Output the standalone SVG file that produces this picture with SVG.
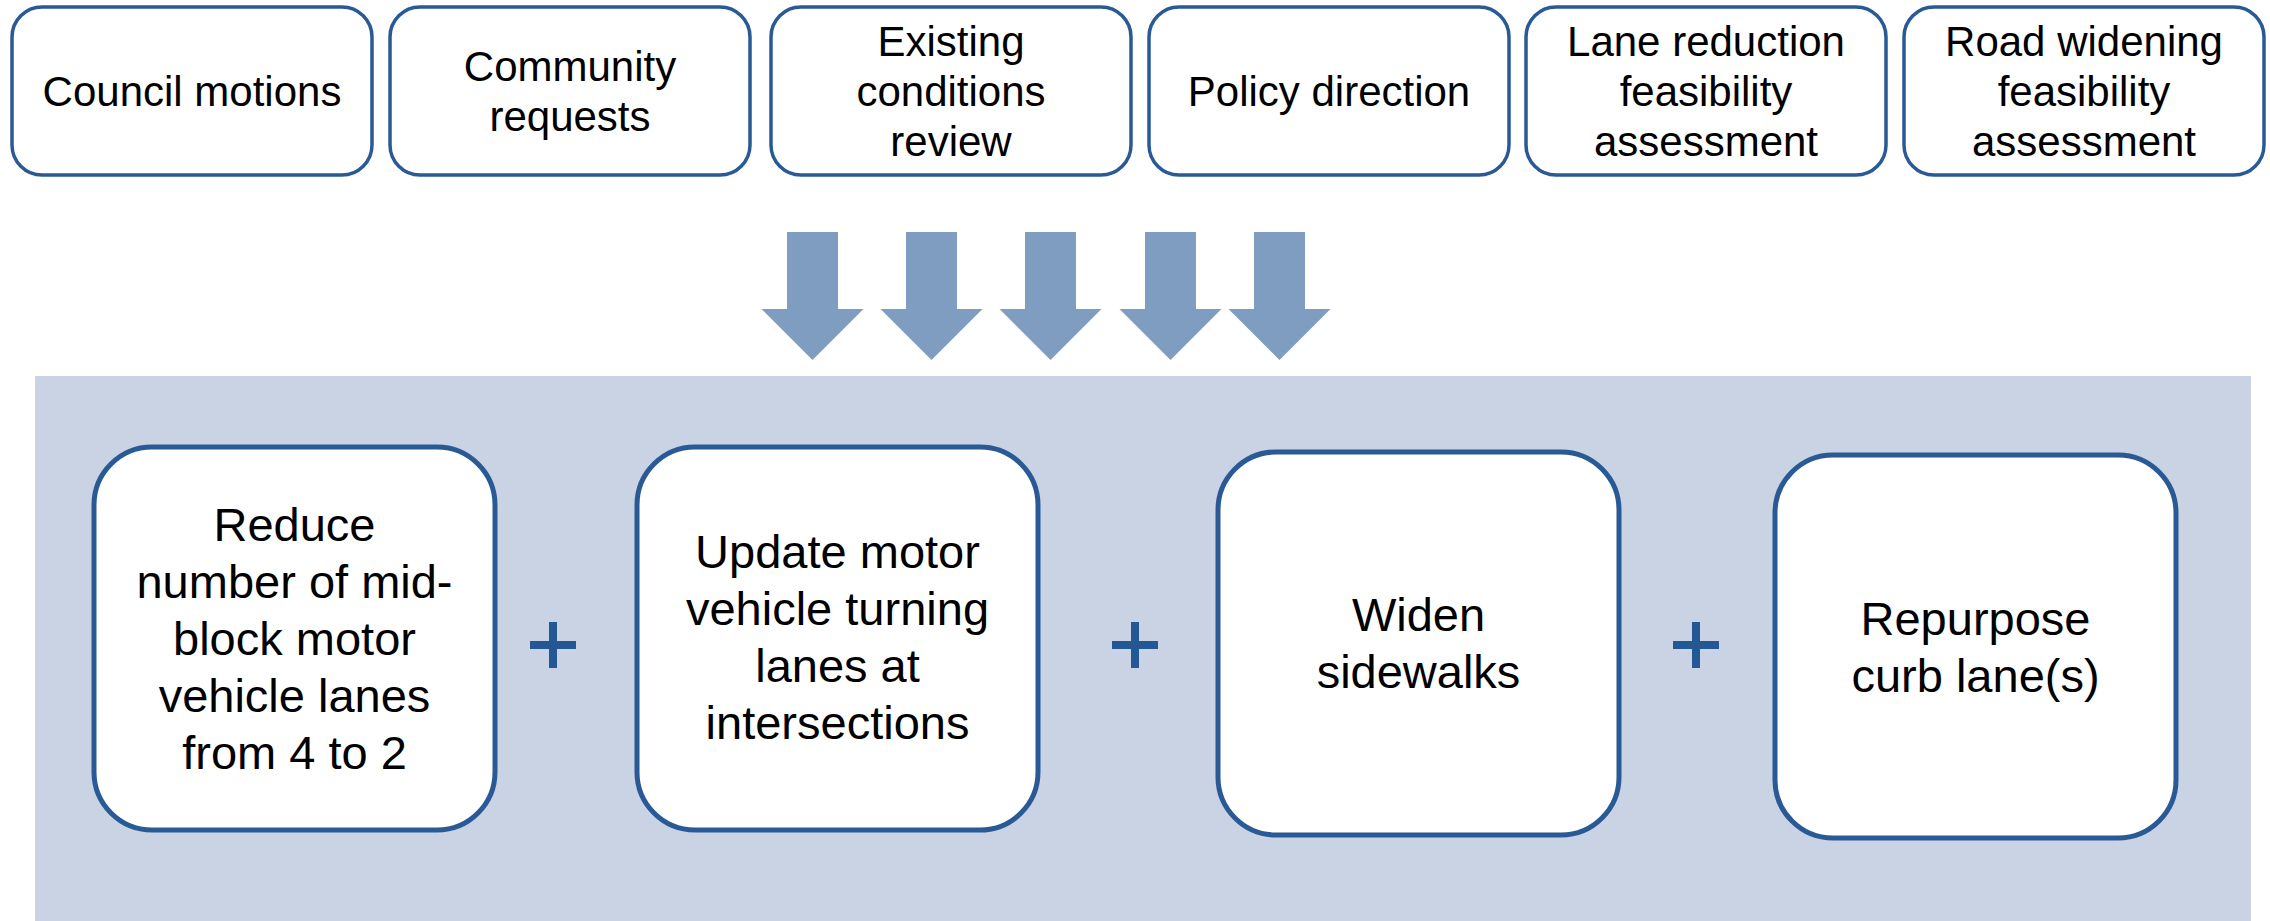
<svg xmlns="http://www.w3.org/2000/svg" width="2270" height="921" viewBox="0 0 2270 921">
<defs>
<style>
.top{fill:#fff;stroke:#2A5A96;stroke-width:3.5}
.big{fill:#fff;stroke:#2A5A96;stroke-width:5}
.t1{font-family:"Liberation Sans",Arial,sans-serif;font-size:42px;fill:#000;text-anchor:middle}
.t2{font-family:"Liberation Sans",Arial,sans-serif;font-size:47px;fill:#000;text-anchor:middle}
.arr{fill:#7F9DC0}
.plus{fill:#245894}
</style>
<path id="arrow" d="M-25.5,0 H25.5 V77 H51 L0,128 L-51,77 H-25.5 Z"/>
<path id="plus" d="M-4,-23 H4 V-4 H23 V4 H4 V23 H-4 V4 H-23 V-4 H-4 Z"/>
</defs>
<rect x="0" y="0" width="2270" height="921" fill="#fff"/>
<rect x="35" y="376" width="2216" height="545" fill="#C9D3E3"/>

<g id="n-council">
<rect class="top" x="12" y="7" width="360" height="168" rx="30"/>
<text class="t1" x="192" y="106">Council motions</text>
</g>
<g id="n-community">
<rect class="top" x="390" y="7" width="360" height="168" rx="30"/>
<text class="t1" x="570" y="81">Community</text>
<text class="t1" x="570" y="131">requests</text>
</g>
<g id="n-existing">
<rect class="top" x="771" y="7" width="360" height="168" rx="30"/>
<text class="t1" x="951" y="56">Existing</text>
<text class="t1" x="951" y="106">conditions</text>
<text class="t1" x="951" y="156">review</text>
</g>
<g id="n-policy">
<rect class="top" x="1149" y="7" width="360" height="168" rx="30"/>
<text class="t1" x="1329" y="106">Policy direction</text>
</g>
<g id="n-lane">
<rect class="top" x="1526" y="7" width="360" height="168" rx="30"/>
<text class="t1" x="1706" y="56">Lane reduction</text>
<text class="t1" x="1706" y="106">feasibility</text>
<text class="t1" x="1706" y="156">assessment</text>
</g>
<g id="n-road">
<rect class="top" x="1904" y="7" width="360" height="168" rx="30"/>
<text class="t1" x="2084" y="56">Road widening</text>
<text class="t1" x="2084" y="106">feasibility</text>
<text class="t1" x="2084" y="156">assessment</text>
</g>

<g id="connectors">
<use href="#arrow" class="arr" x="812.5" y="232"/>
<use href="#arrow" class="arr" x="931.5" y="232"/>
<use href="#arrow" class="arr" x="1050.5" y="232"/>
<use href="#arrow" class="arr" x="1170.5" y="232"/>
<use href="#arrow" class="arr" x="1279.5" y="232"/>
</g>

<g id="n-reduce">
<rect class="big" x="94" y="447" width="401" height="383" rx="58"/>
<text class="t2" x="294.5" y="541">Reduce</text>
<text class="t2" x="294.5" y="598">number of mid-</text>
<text class="t2" x="294.5" y="655">block motor</text>
<text class="t2" x="294.5" y="712">vehicle lanes</text>
<text class="t2" x="294.5" y="769">from 4 to 2</text>
</g>
<g id="plus1"><use href="#plus" class="plus" x="553" y="645"/></g>
<g id="n-update">
<rect class="big" x="637" y="447" width="401" height="383" rx="58"/>
<text class="t2" x="837.5" y="568">Update motor</text>
<text class="t2" x="837.5" y="625">vehicle turning</text>
<text class="t2" x="837.5" y="682">lanes at</text>
<text class="t2" x="837.5" y="739">intersections</text>
</g>
<g id="plus2"><use href="#plus" class="plus" x="1135" y="645"/></g>
<g id="n-widen">
<rect class="big" x="1218" y="452" width="401" height="383" rx="58"/>
<text class="t2" x="1418.5" y="631">Widen</text>
<text class="t2" x="1418.5" y="688">sidewalks</text>
</g>
<g id="plus3"><use href="#plus" class="plus" x="1696" y="645"/></g>
<g id="n-repurpose">
<rect class="big" x="1775" y="455" width="401" height="383" rx="58"/>
<text class="t2" x="1975.5" y="635">Repurpose</text>
<text class="t2" x="1975.5" y="692">curb lane(s)</text>
</g>
</svg>
